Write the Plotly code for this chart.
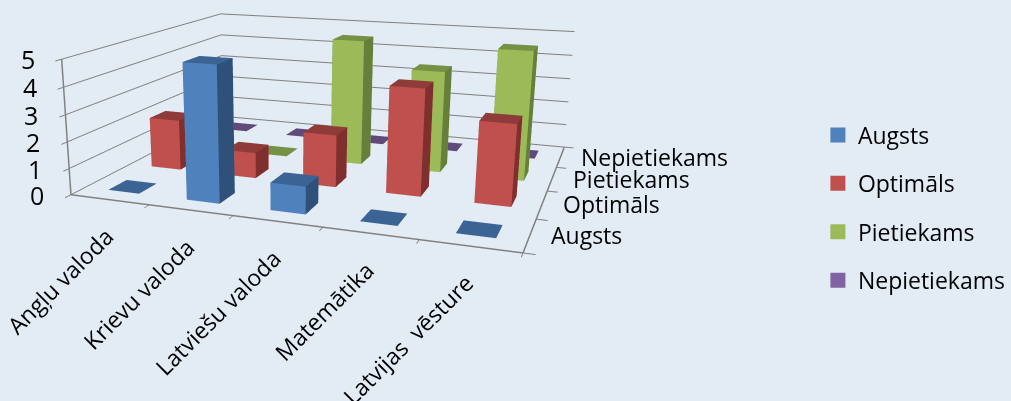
import plotly.graph_objects as go

categories = ["Angļu valoda", "Krievu valoda", "Latviešu valoda", "Matemātika", "Latvijas  vēsture"]
series = ["Augsts", "Optimāls", "Pietiekams", "Nepietiekams"]
augsts = [0, 5, 1, 0, 0]
optimals = [2, 1, 2, 4, 3]
pietiekams = [0, 0, 5, 4, 5]
nepietiekams = [0, 0, 0, 0, 0]
z_ticks = [0, 1, 2, 3, 4, 5]

# Camera found by fitting the reference's box corners. The perspective needs a
# long lens, and Plotly's field of view is fixed, so the figure is larger than
# the window and shifted so the visible part is the 1011x401 region.
EYE = (0.682, -2.146, 0.51)
CENTER = (-0.389, 0.657, -0.392)
ASPECT = (1, 0.822, 0.308)
UP = (0.002, 0.004, 1)
SCENE_H = 789
CX, CY = 287.5, 173
L = 40
T = SCENE_H / 2 - CY
FIG_W = 1011 + L
FIG_H = SCENE_H
BG = "#e3ebf5"

colors = {
 "Augsts":("#4f81bd","#3b6494","#2f5179"),
 "Optimāls":("#c0504d","#8f3b39","#7f2f2d"),
 "Pietiekams":("#9bbb59","#749145","#667f3a"),
 "Nepietiekams":("#8064a2","#5f4a79","#4f3d66"),
}
data=[augsts,optimals,pietiekams,nepietiekams]
BW=0.4
FONT="Open Sans"
TC="#000000"
GRID="#808080"
fig=go.Figure()
tri=[(0,1,2),(0,2,3),(4,5,6),(4,6,7),(0,1,5),(0,5,4),(1,2,6),(1,6,5),(2,3,7),(2,7,6),(3,0,4),(3,4,7)]
for j,(name,vals) in enumerate(zip(series,data)):
    front,top,side=colors[name]
    fc=[top,top,top,top,front,front,side,side,front,front,side,side]
    for i,v in enumerate(vals):
        x0,x1=i+.5-BW/2,i+.5+BW/2
        y0,y1=j+.5-BW/2,j+.5+BW/2
        xs=[x0,x1,x1,x0]*2; ys=[y0,y0,y1,y1]*2; zs=[0]*4+[v]*4
        fig.add_trace(go.Mesh3d(x=xs,y=ys,z=zs,i=[t[0] for t in tri],j=[t[1] for t in tri],k=[t[2] for t in tri],
            facecolor=fc,flatshading=True,lighting=dict(ambient=1,diffuse=0,specular=0,fresnel=0,roughness=1),
            hoverinfo="skip",showlegend=False,showscale=False))
    fig.add_trace(go.Scatter3d(x=[None],y=[None],z=[None],mode="markers",name=name,legendgroup=name,
        marker=dict(symbol="square",size=15,color=front),hoverinfo="skip"))
lx=[0,5,None,5,5,None,0,0];ly=[0,0,None,0,4,None,0,0];lz=[0,0,None,0,0,None,0,5]
fig.add_trace(go.Scatter3d(x=lx,y=ly,z=lz,mode="lines",line=dict(color=GRID,width=3),showlegend=False,hoverinfo="skip"))
ann=[]
for k in z_ticks:
    ann.append(dict(x=0,y=0,z=k,text=str(k),showarrow=False,xanchor="right",xshift=-25,font=dict(size=25,color=TC,family=FONT)))
for i,c in enumerate(categories):
    ann.append(dict(x=i+.5,y=0,z=0,text=c,showarrow=False,textangle=-45,xanchor="right",yanchor="top",xshift=13,yshift=-18,font=dict(size=23,color=TC,family=FONT)))
for j,s in enumerate(series):
    ann.append(dict(x=5,y=j+.5,z=0,text=s,showarrow=False,xanchor="left",xshift=19,font=dict(size=23,color=TC,family=FONT)))
noax=dict(showticklabels=False,showgrid=False,zeroline=False,showline=False,showbackground=False,title="",showspikes=False,
          ticks="outside",ticklen=8,tickwidth=2,tickcolor=GRID)
fig.update_layout(
    width=FIG_W,height=FIG_H,margin=dict(l=0,r=0,t=0,b=0),paper_bgcolor=BG,
    legend=dict(x=(L+822)/FIG_W,y=1-(T+113)/FIG_H,xanchor="left",yanchor="top",font=dict(size=23,family=FONT,color=TC),tracegroupgap=15.5,bgcolor="rgba(0,0,0,0)"),
    scene=dict(domain=dict(x=[0,2*(L+CX)/FIG_W],y=[0,1]),bgcolor="rgba(0,0,0,0)",
        camera=dict(eye=dict(x=EYE[0],y=EYE[1],z=EYE[2]),center=dict(x=CENTER[0],y=CENTER[1],z=CENTER[2]),up=dict(x=UP[0],y=UP[1],z=UP[2])),
        aspectmode="manual",aspectratio=dict(x=ASPECT[0],y=ASPECT[1],z=ASPECT[2]),
        xaxis=dict(noax,range=[0,5],tickvals=[0,1,2,3,4,5]),yaxis=dict(noax,range=[0,4],tickvals=[0,1,2,3,4]),
        zaxis=dict(noax,range=[0,5],tickvals=z_ticks,showgrid=True,gridcolor=GRID,gridwidth=2),
        annotations=ann),
)
post=(f"document.body.style.margin='{-T}px 0 0 {-L}px';"
      f"document.documentElement.style.background='{BG}';"
      "document.documentElement.style.overflow='hidden';document.body.style.overflow='hidden';")
fig.write_html("out.html",config={"displayModeBar":False},post_script=post)
